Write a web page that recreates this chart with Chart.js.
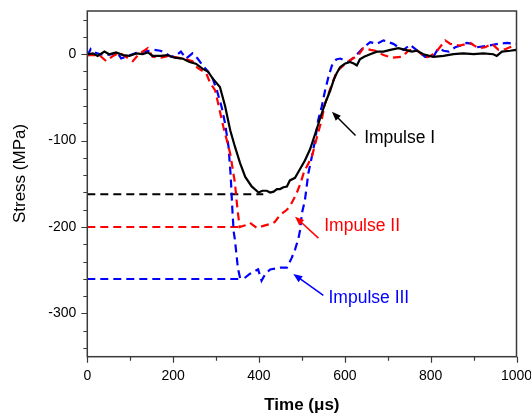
<!DOCTYPE html>
<html><head><meta charset="utf-8">
<script src="https://cdn.jsdelivr.net/npm/chart.js@4.4.1/dist/chart.umd.min.js"></script>
<style>html,body{margin:0;padding:0;background:#fff}</style>
</head><body>
<canvas id="c" width="531" height="414" style="display:block;width:531px;height:414px"></canvas>
<script>
// ---- data (time in µs, stress in MPa) ----
const timeI = [0,13,24,40,51,67,83,98,114,129,141,152,172,187,203,222,238,253,269,281,292,309,321,333,344,356,368,383,399,408,418,426,434,442,449,457,465,472,484,492,507,519,531,542,554,566,574,581,589,600,612,622,628,635,645,659,675,690,706,725,741,756,768,783,806,830,853,876,900,923,946,954,966,985,1000];
const stressI = [0,1,-2,3,0,2,-1,-2,1,0,2,-2,-2,-1,-4,-5,-9,-11,-17,-20,-28,-38,-60,-88,-107,-126,-142,-153,-160,-158,-158,-160,-159,-156,-156,-154,-153,-146,-143,-136,-123,-110,-92,-75,-57,-42,-30,-22,-15,-11,-9,-11,-13,-6,-3,0,3,3,5,7,5,3,4,0,-3,-2,0,1,0,1,0,-2,3,4,5];

const timeII = [0,15,28,44,60,75,90,106,120,141,152,172,190,211,230,245,257,277,286,298,317,333,344,350,355,368,379,395,414,430,437,449,465,472,486,497,505,523,535,545,554,566,581,597,612,632,643,660,671,690,710,733,748,760,772,787,800,815,834,846,868,892,911,927,943,958,975,989,1000];
const stressII = [-1,-1,-1,-8,-2,2,-3,-8,0,7,-3,-4,-2,-4,-6,-8,-16,-22,-33,-42,-84,-115,-149,-180,-200,-198,-195,-201,-198,-196,-194,-186,-180,-176,-163,-149,-136,-119,-96,-78,-57,-40,-20,-13,-7,-1,7,5,4,-1,-4,-3,4,6,3,-4,-2,4,16,12,10,13,7,8,12,5,6,9,4];

const timeIII = [0,8,18,30,44,58,70,79,90,100,117,133,156,170,180,195,208,218,230,245,257,269,281,292,302,313,321,329,334,338,341,344,348,351,356,364,379,398,406,414,426,449,465,476,484,492,496,500,507,515,523,531,538,546,554,562,570,580,589,608,625,640,659,675,690,713,725,737,752,772,787,806,818,830,842,857,870,884,896,908,935,958,978,1000];
const stressIII = [-2,6,2,0,-1,0,2,-5,-3,-1,2,3,5,4,2,-3,-1,3,-5,1,-5,-13,-20,-28,-42,-61,-80,-107,-140,-180,-205,-215,-234,-248,-259,-260,-254,-249,-262,-255,-249,-247,-247,-236,-226,-213,-203,-184,-169,-138,-119,-99,-76,-61,-42,-26,-13,-6,-5,-9,-2,6,14,12,16,12,8,5,11,3,-3,-3,7,4,3,8,10,13,12,8,10,12,13,12];

// peak-level reference lines: stress level and end time
const peakLevels = [-162, -200, -260];
const peakEnds = [410, 355, 362];

const seriesNames = ['Impulse I', 'Impulse II', 'Impulse III'];
const xTickValues = [0, 200, 400, 600, 800, 1000];
const yTickValues = [-300, -200, -100, 0];

// annotation anchors in data units: label, arrow tail, arrow tip
const labelAt = [[645, -97.6], [552, -199.4], [562, -282]];
const arrowFrom = [[625, -94], [538.5, -212.8], [550, -279]];
const arrowTo = [[570, -66.7], [484, -188], [480, -254.4]];

// ---- styles ----
const colors = ['#000000', '#ff0000', '#0000ff'];
const FONT = '"Liberation Sans", Arial, sans-serif';

const pts = (xs, ys) => xs.map((x, i) => ({x, y: ys[i]}));
const series = [pts(timeI, stressI), pts(timeII, stressII), pts(timeIII, stressIII)];

const datasets = [];
series.forEach((d, i) => {
  datasets.push({
    label: seriesNames[i], data: d, borderColor: colors[i], borderWidth: 2.2,
    borderDash: i === 0 ? [] : [8, 5], pointRadius: 0, tension: 0, fill: false
  });
});
peakLevels.forEach((lv, i) => {
  datasets.push({
    label: seriesNames[i] + ' peak', data: [{x: 0, y: lv}, {x: peakEnds[i], y: lv}],
    borderColor: colors[i], borderWidth: 2, borderDash: [8, 5], pointRadius: 0, fill: false
  });
});

function arrow(ctx, x1, y1, x2, y2, color) {
  const a = Math.atan2(y2 - y1, x2 - x1);
  const head = 9, hw = 3.6;
  ctx.strokeStyle = color; ctx.fillStyle = color; ctx.lineWidth = 1.5; ctx.setLineDash([]);
  ctx.beginPath(); ctx.moveTo(x1, y1);
  ctx.lineTo(x2 - head * 0.8 * Math.cos(a), y2 - head * 0.8 * Math.sin(a)); ctx.stroke();
  ctx.beginPath(); ctx.moveTo(x2, y2);
  ctx.lineTo(x2 - head * Math.cos(a) + hw * Math.sin(a), y2 - head * Math.sin(a) - hw * Math.cos(a));
  ctx.lineTo(x2 - head * Math.cos(a) - hw * Math.sin(a), y2 - head * Math.sin(a) + hw * Math.cos(a));
  ctx.closePath(); ctx.fill();
}

const decor = {
  id: 'decor',
  afterDatasetsDraw(chart) {
    const {ctx, chartArea: a, scales: {x, y}} = chart;
    ctx.save();
    ctx.setLineDash([]);
    // frame
    ctx.strokeStyle = '#3a3a3a'; ctx.lineWidth = 1.5;
    ctx.strokeRect(a.left, a.top, a.right - a.left, a.bottom - a.top);
    // tick marks (major + minor), outward
    ctx.lineWidth = 1.2; ctx.beginPath();
    for (let v = 0; v <= 1000; v += 100) {
      const px = Math.round(x.getPixelForValue(v)) + 0.5;
      const len = v % 200 === 0 ? 6 : 4;
      ctx.moveTo(px, a.bottom); ctx.lineTo(px, a.bottom + len);
    }
    for (let v = -340; v <= 40; v += 20) {
      const py = Math.round(y.getPixelForValue(v)) + 0.5;
      const len = v % 100 === 0 ? 6 : 4;
      ctx.moveTo(a.left, py); ctx.lineTo(a.left - len, py);
    }
    ctx.stroke();
    // annotations
    ctx.font = '17.5px ' + FONT; ctx.textBaseline = 'middle'; ctx.textAlign = 'left';
    seriesNames.forEach((n, i) => {
      arrow(ctx, x.getPixelForValue(arrowFrom[i][0]), y.getPixelForValue(arrowFrom[i][1]),
        x.getPixelForValue(arrowTo[i][0]), y.getPixelForValue(arrowTo[i][1]), colors[i]);
      ctx.fillStyle = colors[i];
      ctx.fillText(n, x.getPixelForValue(labelAt[i][0]), y.getPixelForValue(labelAt[i][1]));
    });
    // axis titles
    ctx.fillStyle = '#000';
    ctx.textAlign = 'center';
    ctx.font = 'bold 17px ' + FONT;
    ctx.fillText('Time (\u03bcs)', (a.left + a.right) / 2, 405);
    ctx.font = '17px ' + FONT;
    ctx.translate(20, 173.5); ctx.rotate(-Math.PI / 2);
    ctx.fillText('Stress (MPa)', 0, 0);
    ctx.restore();
  }
};

new Chart(document.getElementById('c'), {
  type: 'line',
  data: {datasets},
  options: {
    responsive: false, animation: false, devicePixelRatio: 1,
    layout: {padding: {left: 0, top: 11, right: 14.5, bottom: 0}},
    plugins: {legend: {display: false}, tooltip: {enabled: false}},
    scales: {
      x: {
        type: 'linear', min: 0, max: 1000,
        afterBuildTicks: s => { s.ticks = xTickValues.map(v => ({value: v})); },
        afterFit: s => { s.height = 57.3; s.paddingLeft = 0; s.paddingRight = 0; },
        border: {display: false},
        grid: {drawOnChartArea: false, drawTicks: true, tickLength: 6, color: 'rgba(0,0,0,0)', tickColor: 'rgba(0,0,0,0)'},
        ticks: {color: '#000', font: {family: FONT, size: 14}, padding: 5, maxRotation: 0, autoSkip: false,
          callback: v => String(v)}
      },
      y: {
        type: 'linear', min: -350, max: 50,
        afterBuildTicks: s => { s.ticks = yTickValues.map(v => ({value: v})); },
        afterFit: s => { s.width = 87.3; s.paddingTop = 0; s.paddingBottom = 0; },
        border: {display: false},
        grid: {drawOnChartArea: false, drawTicks: true, tickLength: 6, color: 'rgba(0,0,0,0)', tickColor: 'rgba(0,0,0,0)'},
        ticks: {color: '#000', font: {family: FONT, size: 14}, padding: 5, autoSkip: false,
          callback: v => String(v)}
      }
    }
  },
  plugins: [decor]
});
</script>
</body></html>
